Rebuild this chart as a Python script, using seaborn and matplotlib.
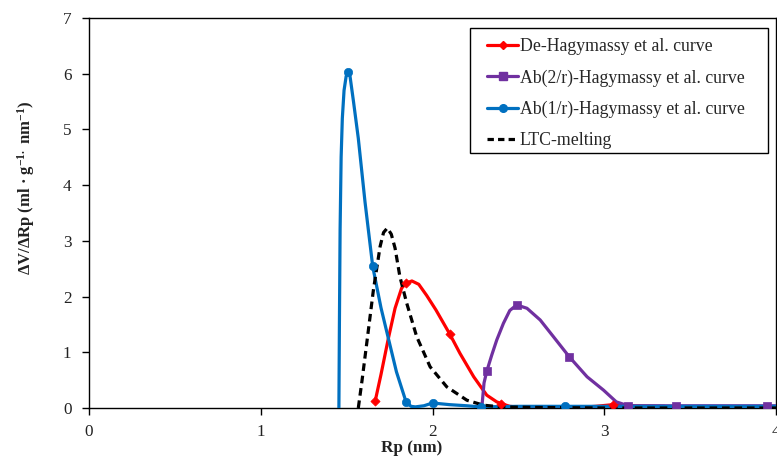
import matplotlib
matplotlib.use("Agg")
import matplotlib.pyplot as plt
from matplotlib.lines import Line2D
from matplotlib.patches import Rectangle
import seaborn as sns
import pandas as pd

# ---- data ----
# De-Hagymassy et al. curve (red)
red_x = [1.666, 1.70, 1.743, 1.782, 1.82, 1.846, 1.88, 1.92, 1.966, 2.02, 2.10, 2.16, 2.24, 2.316, 2.374, 2.40, 2.45, 2.55, 2.8, 2.95, 3.05, 3.15, 3.35]
red_y = [0.12, 0.60, 1.25, 1.79, 2.15, 2.24, 2.28, 2.22, 2.02, 1.76, 1.33, 0.98, 0.56, 0.23, 0.11, 0.08, 0.03, 0.0, 0.0, 0.03, 0.06, 0.04, 0.03]
red_mx = [1.666, 1.846, 2.10, 2.40, 3.05]
red_my = [0.12, 2.24, 1.33, 0.08, 0.06]

# Ab(2/r)-Hagymassy et al. curve (purple)
pur_x = [2.287, 2.30, 2.316, 2.345, 2.374, 2.413, 2.45, 2.49, 2.55, 2.627, 2.704, 2.796, 2.90, 2.996, 3.07, 3.14, 3.42, 3.95, 4.0]
pur_y = [0.0, 0.45, 0.66, 0.95, 1.22, 1.52, 1.75, 1.85, 1.79, 1.58, 1.28, 0.92, 0.56, 0.32, 0.11, 0.04, 0.04, 0.04, 0.04]
pur_mx = [2.316, 2.49, 2.796, 3.14, 3.42, 3.95]
pur_my = [0.66, 1.85, 0.92, 0.04, 0.04, 0.04]

# Ab(1/r)-Hagymassy et al. curve (blue)
blu_x = [1.455, 1.458, 1.462, 1.468, 1.475, 1.485, 1.497, 1.507, 1.52, 1.54, 1.568, 1.607, 1.652, 1.70, 1.743, 1.79, 1.846, 1.875, 1.90, 1.95, 2.0, 2.1, 2.2, 2.28, 2.5, 2.77, 3.0, 3.5, 4.0]
blu_y = [0.0, 1.5, 3.2, 4.5, 5.2, 5.7, 5.95, 6.03, 5.95, 5.5, 4.84, 3.70, 2.54, 1.80, 1.25, 0.65, 0.11, 0.03, 0.02, 0.04, 0.09, 0.06, 0.04, 0.02, 0.03, 0.03, 0.03, 0.03, 0.03]
blu_mx = [1.507, 1.652, 1.846, 2.0, 2.28, 2.77]
blu_my = [6.03, 2.54, 0.11, 0.09, 0.02, 0.03]

# LTC-melting (black dashed)
ltc_x = [1.568, 1.59, 1.617, 1.656, 1.695, 1.715, 1.737, 1.76, 1.782, 1.81, 1.85, 1.908, 1.986, 2.083, 2.2, 2.297, 2.4, 2.6, 3.0, 3.5, 4.0]
ltc_y = [0.0, 0.50, 1.16, 2.12, 2.90, 3.15, 3.23, 3.12, 2.87, 2.36, 1.88, 1.28, 0.74, 0.38, 0.14, 0.05, 0.02, 0.01, 0.0, 0.0, 0.0]

labels = ["De-Hagymassy et al. curve", "Ab(2/r)-Hagymassy et al. curve",
          "Ab(1/r)-Hagymassy et al. curve", "LTC-melting"]
x_ticks = [0, 1, 2, 3, 4]
y_ticks = [0, 1, 2, 3, 4, 5, 6, 7]

# ---- styling ----
sns.set_theme(style="white")
plt.rcParams['font.family'] = ['Liberation Serif', 'DejaVu Serif']
plt.rcParams['mathtext.fontset'] = 'custom'
plt.rcParams['mathtext.rm'] = 'Liberation Serif:bold'
plt.rcParams['mathtext.bf'] = 'Liberation Serif:bold'
plt.rcParams['mathtext.default'] = 'bf'

RED, PUR, BLU = "#FF0000", "#7030A0", "#0070C0"
LW = 2.3

fig = plt.figure(figsize=(7.77, 4.57), dpi=100)
ax = fig.add_axes([89/777, 1 - 408/457, (776 - 89)/777, (408 - 18)/457])

def curve(xs, ys, color, **kw):
    df = pd.DataFrame({"x": xs, "y": ys})
    sns.lineplot(data=df, x="x", y="y", ax=ax, color=color, lw=LW, sort=False,
                 estimator=None, legend=False, **kw)

def marks(xs, ys, color, marker, size):
    df = pd.DataFrame({"x": xs, "y": ys})
    sns.scatterplot(data=df, x="x", y="y", ax=ax, color=color, marker=marker,
                    s=size, edgecolor=color, linewidth=0.5, legend=False, zorder=5)

curve(ltc_x, ltc_y, "black", dashes=(2.4, 1.5), zorder=2)
curve(red_x, red_y, RED, zorder=3)
curve(pur_x, pur_y, PUR, zorder=3)
curve(blu_x, blu_y, BLU, zorder=4)
ax.lines[0].set_zorder(4.5)

marks(red_mx, red_my, RED, "D", 22)
marks(pur_mx, pur_my, PUR, "s", 36)
marks(blu_mx, blu_my, BLU, "o", 36)

ax.set_xlim(0, 4)
ax.set_ylim(0, 7)
ax.set_xticks(x_ticks)
ax.set_yticks(y_ticks)
ax.set_xticklabels([str(t) for t in x_ticks])
ax.set_yticklabels([str(t) for t in y_ticks])
ax.tick_params(axis='both', which='both', direction='out', length=5, width=1,
               color='black', labelsize=12.3, labelcolor='#222222',
               bottom=True, left=True)
ax.tick_params(axis='y', pad=7.5)
ax.tick_params(axis='x', pad=6.5)
for s in ax.spines.values():
    s.set_color('black')
    s.set_linewidth(1.0)

ax.set_xlabel("Rp (nm)", fontsize=12.3, fontweight='bold', color='#222222')
ax.xaxis.set_label_coords(0.47, -0.083)
ax.set_ylabel(r"ΔV/ΔRp (ml · g$^{-1.}$ nm$^{-1}$)", fontsize=12,
              fontweight='bold', color='#222222')
ax.yaxis.set_label_coords(-0.075, 0.564)

# legend frame (drawn separately so the inner padding matches the reference)
ax.add_patch(Rectangle(((470 - 89) / 687, (408 - 153) / 390),
                       (768 - 470) / 687, (153 - 28) / 390,
                       transform=ax.transAxes, facecolor='white',
                       edgecolor='black', lw=1.0, zorder=6))

handles = [
    Line2D([], [], color=RED, lw=LW, marker="D", markersize=4.5),
    Line2D([], [], color=PUR, lw=LW, marker="s", markersize=6),
    Line2D([], [], color=BLU, lw=LW, marker="o", markersize=5.5),
    Line2D([], [], color="black", lw=LW, dashes=(2.0, 1.3)),
]
leg = ax.legend(handles, labels, loc='upper left',
                bbox_to_anchor=((479 - 89) / 687, 0.969),
                fontsize=12.8, frameon=False,
                handlelength=1.75, handletextpad=0.08, labelspacing=0.80,
                borderpad=0.45, borderaxespad=0.0)
leg.set_zorder(7)

fig.savefig("out.png", dpi=100)
